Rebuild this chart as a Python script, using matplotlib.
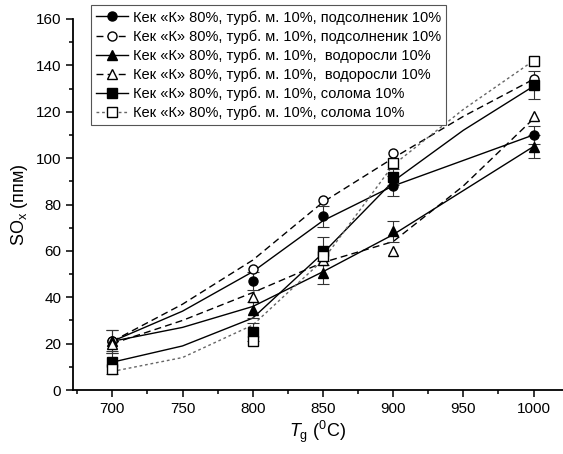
import matplotlib
matplotlib.use("Agg")
from matplotlib import pyplot as plt
import numpy as np

plt.rcParams['font.family'] = ['Liberation Sans', 'DejaVu Sans']
plt.rcParams['mathtext.fontset'] = 'custom'
plt.rcParams['mathtext.rm'] = 'Liberation Sans'
plt.rcParams['mathtext.it'] = 'Liberation Sans:italic'

# measured points
temps = [700, 800, 850, 900, 1000]
sun_f = [21, 47, 75, 88, 110]
sun_o = [21, 52, 82, 102, 134]
alg_f = [21, 34.5, 50.5, 68.5, 105]
alg_o = [20, 40, 56, 60, 118]
str_f = [12, 25, 60, 92, 131.5]
str_o = [9, 21, 58, 98, 142]

sun_f_err = [5, 4, 4.5, 4.5, 4]
alg_f_err = [5, 3.5, 5, 4.5, 5]
str_f_err = [5, 4, 6, 3.5, 6]

# smoothed curves
curve_t = [700, 750, 800, 850, 900, 950, 1000]
sun_f_c = [21, 34, 51, 73, 88, 99, 110]
sun_o_c = [21, 37, 56, 81, 100, 118, 134]
alg_f_c = [21, 27, 36, 51, 67, 86, 105]
alg_o_c = [20, 30, 42, 55, 64, 88, 117]
str_f_c = [12, 19, 31, 59, 90, 112, 131]
str_o_c = [8, 14, 28, 56, 97, 121, 142]

lab_sun = 'Кек «К» 80%, турб. м. 10%, подсолненик 10%'
lab_alg = 'Кек «К» 80%, турб. м. 10%,  водоросли 10%'
lab_str = 'Кек «К» 80%, турб. м. 10%, солома 10%'

fig = plt.figure(figsize=(5.63, 4.54), dpi=100)
ax = fig.add_axes([73/563, 64/454, 490/563, 371/454])

series = [
    (sun_f, sun_f_c, sun_f_err, 'o', 'black', '-', 'black', lab_sun),
    (sun_o, sun_o_c, None, 'o', 'white', (0, (5, 3)), 'black', lab_sun),
    (alg_f, alg_f_c, alg_f_err, '^', 'black', '-', 'black', lab_alg),
    (alg_o, alg_o_c, None, '^', 'white', (0, (5, 3)), 'black', lab_alg),
    (str_f, str_f_c, str_f_err, 's', 'black', '-', 'black', lab_str),
    (str_o, str_o_c, None, 's', 'white', (0, (2, 2)), '#666666', lab_str),
]

handles = []
for vals, curve, err, mk, fc, ls, lc, lab in series:
    ax.plot(curve_t, curve, ls=ls, color=lc, lw=1.0, zorder=2)
    if err is not None:
        ax.errorbar(temps, vals, yerr=err, fmt='none', ecolor='#333333',
                    elinewidth=0.8, capsize=4, capthick=0.8, zorder=3)
    ax.plot(temps, vals, ls='none', marker=mk, ms=6.5, mfc=fc, mec='black',
            mew=1.0, zorder=4)
    h, = ax.plot([], [], ls=ls, color=lc, lw=1.0, marker=mk, ms=6.5,
                 mfc=fc, mec='black', mew=1.0)
    handles.append((h, lab))

ax.set_xlim(672, 1021)
ax.set_ylim(0, 160)
ax.set_xticks([700, 750, 800, 850, 900, 950, 1000])
ax.set_xticks(np.arange(675, 1021, 25), minor=True)
ax.set_yticks(np.arange(0, 161, 20))
ax.set_yticks(np.arange(0, 161, 10), minor=True)
ax.spines['top'].set_visible(False)
ax.spines['right'].set_visible(False)
ax.spines['left'].set_linewidth(1.3)
ax.spines['bottom'].set_linewidth(1.3)
ax.tick_params(which='major', direction='out', length=5, width=1.1,
               labelsize=11)
ax.tick_params(which='minor', direction='out', length=3, width=1.1)

ax.set_xlabel('$\\mathit{T}_\\mathregular{g}$ ($^\\mathregular{0}$C)',
              fontsize=13, labelpad=2)
ax.set_ylabel('SO$_\\mathregular{x}$ (ппм)', fontsize=13, labelpad=4)

leg = fig.legend([h for h, _ in handles], [l for _, l in handles],
                 loc='upper left', bbox_to_anchor=(91/563, 1 - 5/454),
                 fontsize=10.5, handlelength=2.2, handletextpad=0.3,
                 labelspacing=0.32, borderpad=0.35, borderaxespad=0,
                 fancybox=False, framealpha=1, edgecolor='#555555')
leg.get_frame().set_linewidth(0.8)

fig.savefig('out.png', dpi=100)
